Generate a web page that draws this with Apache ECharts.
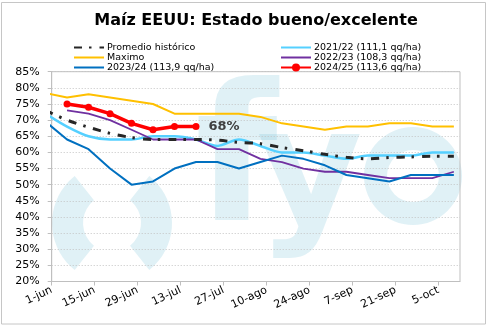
<!DOCTYPE html>
<html><head><meta charset="utf-8">
<script src="https://cdn.jsdelivr.net/npm/echarts@6/dist/echarts.min.js"></script>
<style>html,body{margin:0;padding:0;background:#fff}#c{width:492px;height:330px}</style>
</head><body><div id="c"></div>
<script>
// Weekly report dates (x) and tick labels
const weekDates = ['2024-05-30','2024-06-06','2024-06-13','2024-06-20','2024-06-27','2024-07-04','2024-07-11','2024-07-18','2024-07-25','2024-08-01','2024-08-08','2024-08-15','2024-08-22','2024-08-29','2024-09-05','2024-09-12','2024-09-19','2024-09-26','2024-10-03','2024-10-10'];
const tickLabels = ['1-jun','15-jun','29-jun','13-jul','27-jul','10-ago','24-ago','7-sep','21-sep','5-oct'];
// Series values (% good/excellent)
const promedio = [73,70,67.8,65.9,64.6,64,64,64,63.8,63.1,62.7,61.5,60.5,59.4,58.5,58,58.4,58.6,58.8,58.8];
const maximo   = [78.4,77,78,77,76,75,72,72,72,72,71,69,68,67,68,68,69,69,68,68];
const c2122    = [72,68,65,64,64,65,65,64,62,64,62,60,60,59,58,59,59,59,60,60];
const c2223    = [null,73,72,70,67,64,64,64,61,61,58,57,55,54,54,53,52,52,52,54];
const c2324    = [69.5,64,61,55,50,51,55,57,57,55,57,59,58,56,53,52,51,53,53,53];
const c2425    = [null,75,74,72,69,67,68,68,null,null,null,null,null,null,null,null,null,null,null,null];

const FONT = 'DejaVu Sans';
const base = Date.parse('2024-06-01');
const dayOf = d => Math.round((Date.parse(d) - base) / 86400000);
const pts = arr => weekDates.map((d, i) => [dayOf(d), arr[i]]).filter(p => p[1] != null);

const redPts = pts(c2425).map((p, i, a) => i === a.length - 1 ? {
  value: p,
  label: {show: true, position: 'right', distance: 9, formatter: '{@[1]}%', fontFamily: FONT, fontWeight: 'bold', fontSize: 13, color: '#404040'}
} : p);

const wm = 'rgba(90,180,205,0.19)';
const noDot = name => ({name: name, itemStyle: {opacity: 0}});
const legendText = {fontFamily: FONT, fontSize: 9.5, color: '#000', lineHeight: 10, padding: [0,0,0,-2]};
const chart = echarts.init(document.getElementById('c'), null, {renderer: 'canvas'});
chart.setOption({
  animation: false,
  backgroundColor: '#fff',
  title: {
    text: 'Maíz EEUU: Estado bueno/excelente',
    left: 256, top: 13, textAlign: 'center', padding: 0,
    textStyle: {fontFamily: FONT, fontWeight: 'bold', fontSize: 16, color: '#000'}
  },
  legend: [
    {orient: 'vertical', left: 68, top: 37.5, itemWidth: 30, itemHeight: 10, itemGap: 0,
     data: [noDot('Promedio histórico'), noDot('Maximo'), noDot('2023/24 (113,9 qq/ha)')],
     textStyle: legendText},
    {orient: 'vertical', left: 275, top: 37.5, itemWidth: 30, itemHeight: 10, itemGap: 0,
     data: [noDot('2021/22 (111,1 qq/ha)'), noDot('2022/23 (108,3 qq/ha)'), '2024/25 (113,6 qq/ha)'],
     textStyle: legendText}
  ],
  grid: {left: 51.7, right: 32, top: 71.7, bottom: 48.5, show: true, borderColor: '#bfbfbf', borderWidth: 1, backgroundColor: 'transparent'},
  xAxis: {
    type: 'value', min: 0, max: 133, interval: 14,
    axisLine: {show: true, lineStyle: {color: '#bfbfbf'}},
    axisTick: {show: true, length: 4, lineStyle: {color: '#bfbfbf'}},
    splitLine: {show: false},
    axisLabel: {rotate: 25, margin: 8, fontFamily: FONT, fontSize: 11, color: '#000', showMaxLabel: false,
      formatter: v => (v % 14 === 0 ? (tickLabels[v / 14] || '') : '')}
  },
  yAxis: {
    type: 'value', min: 20, max: 85, interval: 5,
    axisLine: {show: true, lineStyle: {color: '#bfbfbf'}},
    axisTick: {show: true, length: 4, lineStyle: {color: '#bfbfbf'}},
    splitLine: {show: true, lineStyle: {color: '#c4c4c4', type: [1, 2], width: 1}},
    axisLabel: {margin: 12, fontFamily: FONT, fontSize: 11, color: '#000', formatter: '{value}%'}
  },
  graphic: [
    {type: 'sector', z: -10, shape: {cx: 112, cy: 223, r: 60, r0: 29, startAngle: Math.PI - 0.9, endAngle: Math.PI + 0.9}, style: {fill: wm}},
    {type: 'sector', z: -10, shape: {cx: 112, cy: 223, r: 60, r0: 29, startAngle: -0.9, endAngle: 0.9}, style: {fill: wm}},
    {type: 'text', z: -10, x: 195, y: 266, style: {text: 'f', fontSize: 190, fontWeight: 'bold', fontFamily: FONT, fill: wm, align: 'left', verticalAlign: 'bottom'}},
    {type: 'text', z: -10, x: 257, y: 262, style: {text: 'y', fontSize: 162, fontWeight: 'bold', fontFamily: FONT, fill: wm, align: 'left', verticalAlign: 'bottom'}},
    {type: 'ring', z: -10, shape: {cx: 413, cy: 176, r: 49, r0: 26}, style: {fill: wm}},
    {type: 'rect', z: 10, shape: {x: 1.5, y: 2.5, width: 484, height: 321.5}, style: {fill: 'none', stroke: '#c6c6c6', lineWidth: 1}}
  ],
  series: [
    {name: 'Maximo', type: 'line', data: pts(maximo), symbol: 'none', lineStyle: {color: '#ffc000', width: 2}, itemStyle: {color: '#ffc000'}},
    {name: '2021/22 (111,1 qq/ha)', type: 'line', data: pts(c2122), symbol: 'none', smooth: 0.3, lineStyle: {color: '#55d0ff', width: 2.5}, itemStyle: {color: '#55d0ff'}},
    {name: '2022/23 (108,3 qq/ha)', type: 'line', data: pts(c2223), symbol: 'none', lineStyle: {color: '#7030a0', width: 1.8}, itemStyle: {color: '#7030a0'}},
    {name: '2023/24 (113,9 qq/ha)', type: 'line', data: pts(c2324), symbol: 'none', lineStyle: {color: '#0070c0', width: 2}, itemStyle: {color: '#0070c0'}},
    {name: 'Promedio histórico', type: 'line', data: pts(promedio), symbol: 'none', smooth: 0.3, lineStyle: {color: '#262626', width: 3, type: [8, 7, 2.5, 8]}, itemStyle: {color: '#262626'}},
    {name: '2024/25 (113,6 qq/ha)', type: 'line', data: redPts, symbol: 'circle', symbolSize: 7, lineStyle: {color: '#ff0000', width: 3.5}, itemStyle: {color: '#ff0000'}}
  ]
});
</script>
</body></html>
